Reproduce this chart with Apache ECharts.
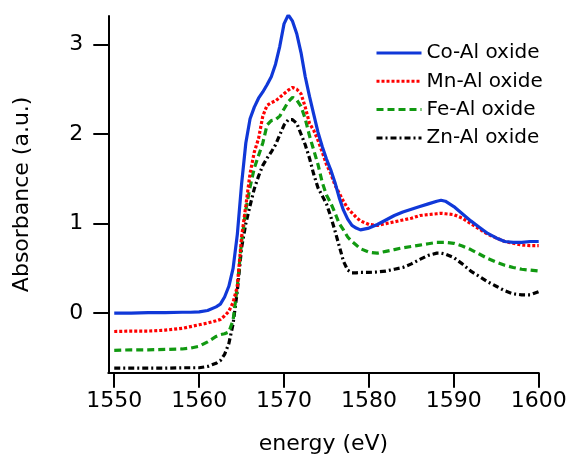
<!DOCTYPE html>
<html>
<head>
<meta charset="utf-8">
<script src="https://cdn.jsdelivr.net/npm/echarts@6/dist/echarts.min.js"></script>
<style>html,body{margin:0;padding:0;background:#fff}#c{width:571px;height:456px}</style>
</head>
<body>
<div id="c"></div>
<script>
const energy = [1550,1552,1554,1556,1558,1559,1560,1561,1562,1562.5,1563,1563.5,1564,1564.5,1565,1565.5,1566,1566.5,1567,1567.5,1568,1568.5,1569,1569.5,1570,1570.5,1571,1571.5,1572,1572.5,1573,1573.5,1574,1574.5,1575,1575.5,1576,1576.5,1577,1577.5,1578,1578.5,1579,1580,1581,1582,1583,1584,1585,1586,1587,1588,1588.5,1589,1590,1591,1592,1593,1594,1595,1596,1597,1598,1599,1600];

const coAl = [0.00,0.00,0.005,0.005,0.01,0.01,0.015,0.03,0.07,0.10,0.18,0.30,0.50,0.88,1.44,1.90,2.17,2.30,2.40,2.47,2.55,2.64,2.78,2.98,3.23,3.33,3.26,3.12,2.91,2.64,2.42,2.22,2.02,1.86,1.72,1.60,1.46,1.29,1.15,1.05,0.98,0.95,0.93,0.95,0.99,1.04,1.09,1.13,1.16,1.19,1.22,1.25,1.26,1.25,1.19,1.11,1.03,0.96,0.89,0.84,0.80,0.79,0.79,0.80,0.80];

const mnAl = [-0.205,-0.20,-0.20,-0.19,-0.17,-0.15,-0.13,-0.11,-0.085,-0.07,-0.03,0.02,0.12,0.30,0.85,1.20,1.56,1.80,1.95,2.20,2.32,2.35,2.37,2.41,2.45,2.49,2.52,2.50,2.45,2.30,2.12,2.04,1.93,1.80,1.66,1.56,1.43,1.34,1.25,1.17,1.12,1.07,1.03,0.99,0.98,1.00,1.02,1.04,1.06,1.09,1.10,1.11,1.115,1.11,1.10,1.06,1.00,0.94,0.88,0.84,0.80,0.78,0.76,0.755,0.755];

const feAl = [-0.415,-0.41,-0.41,-0.405,-0.40,-0.39,-0.37,-0.32,-0.26,-0.24,-0.23,-0.21,-0.08,0.30,0.80,1.15,1.41,1.62,1.76,1.90,2.10,2.15,2.16,2.20,2.28,2.36,2.41,2.38,2.31,2.17,1.98,1.82,1.66,1.46,1.32,1.23,1.12,1.00,0.93,0.85,0.80,0.76,0.72,0.68,0.67,0.69,0.71,0.73,0.745,0.76,0.775,0.79,0.79,0.79,0.78,0.75,0.71,0.66,0.61,0.57,0.535,0.51,0.49,0.48,0.47];

const znAl = [-0.615,-0.615,-0.615,-0.615,-0.61,-0.61,-0.61,-0.595,-0.56,-0.53,-0.46,-0.34,-0.12,0.25,0.73,1.00,1.20,1.39,1.53,1.65,1.73,1.80,1.88,1.99,2.10,2.16,2.16,2.12,2.00,1.88,1.73,1.55,1.40,1.31,1.22,1.08,0.92,0.75,0.58,0.48,0.45,0.45,0.455,0.455,0.46,0.47,0.49,0.51,0.55,0.60,0.645,0.67,0.67,0.66,0.62,0.55,0.47,0.41,0.35,0.30,0.25,0.215,0.205,0.205,0.24];

const seriesNames = ['Co-Al oxide','Mn-Al oxide','Fe-Al oxide','Zn-Al oxide'];
const xTicks = [1550,1560,1570,1580,1590,1600];
const yTicks = [0,1,2,3];

const FONT = 'DejaVu Sans';
const pair = (ys) => energy.map((e, i) => [e, ys[i]]);
const styles = [
  {color:'#1038d8', type:'solid'},
  {color:'#ff0000', type:[3,2]},
  {color:'#119911', type:[7,4]},
  {color:'#000000', type:[6,3,2,3]}
];
const allData = [coAl, mnAl, feAl, znAl];

const chart = echarts.init(document.getElementById('c'), null, {renderer:'canvas'});
chart.setOption({
  animation:false,
  backgroundColor:'#ffffff',
  grid:{left:108.3, right:32.3, top:16, bottom:83.3, containLabel:false, outerBoundsMode:'none'},
  legend:{
    orient:'vertical', left:375, top:43, padding:0,
    itemWidth:45, itemHeight:20, itemGap:8.3,
    itemStyle:{opacity:0},
    lineStyle:{width:3},
    textStyle:{fontFamily:FONT, fontSize:20, color:'#000', lineHeight:20},
    data:seriesNames,
    selectedMode:false
  },
  xAxis:{
    type:'value', min:1549.3, max:1600,
    axisLine:{show:true, onZero:false, lineStyle:{color:'#000', width:2}},
    axisTick:{show:true, length:15, inside:false, customValues:xTicks, lineStyle:{color:'#000', width:2}},
    axisLabel:{customValues:xTicks, formatter:(v)=>String(v), fontFamily:FONT, fontSize:22, color:'#000', margin:18},
    splitLine:{show:false},
    name:'energy (eV)', nameLocation:'middle', nameGap:61,
    nameTextStyle:{fontFamily:FONT, fontSize:22, color:'#000'}
  },
  yAxis:{
    type:'value', min:-0.665, max:3.318,
    axisLine:{show:true, onZero:false, lineStyle:{color:'#000', width:2}},
    axisTick:{show:true, length:15, inside:false, customValues:yTicks, lineStyle:{color:'#000', width:2}},
    axisLabel:{customValues:yTicks, formatter:(v)=>String(v), fontFamily:FONT, fontSize:22, color:'#000', margin:25},
    splitLine:{show:false},
    name:'Absorbance (a.u.)', nameLocation:'middle', nameGap:75, nameRotate:90,
    nameTextStyle:{fontFamily:FONT, fontSize:22, color:'#000'}
  },
  series: seriesNames.map((n,i)=>({
    name:n, type:'line', data:pair(allData[i]),
    symbol:'none', showSymbol:false, smooth:false,
    z: 10 - i,
    itemStyle:{color:styles[i].color},
    lineStyle:{color:styles[i].color, width:3.2, type:styles[i].type}
  }))
});
</script>
</body>
</html>
